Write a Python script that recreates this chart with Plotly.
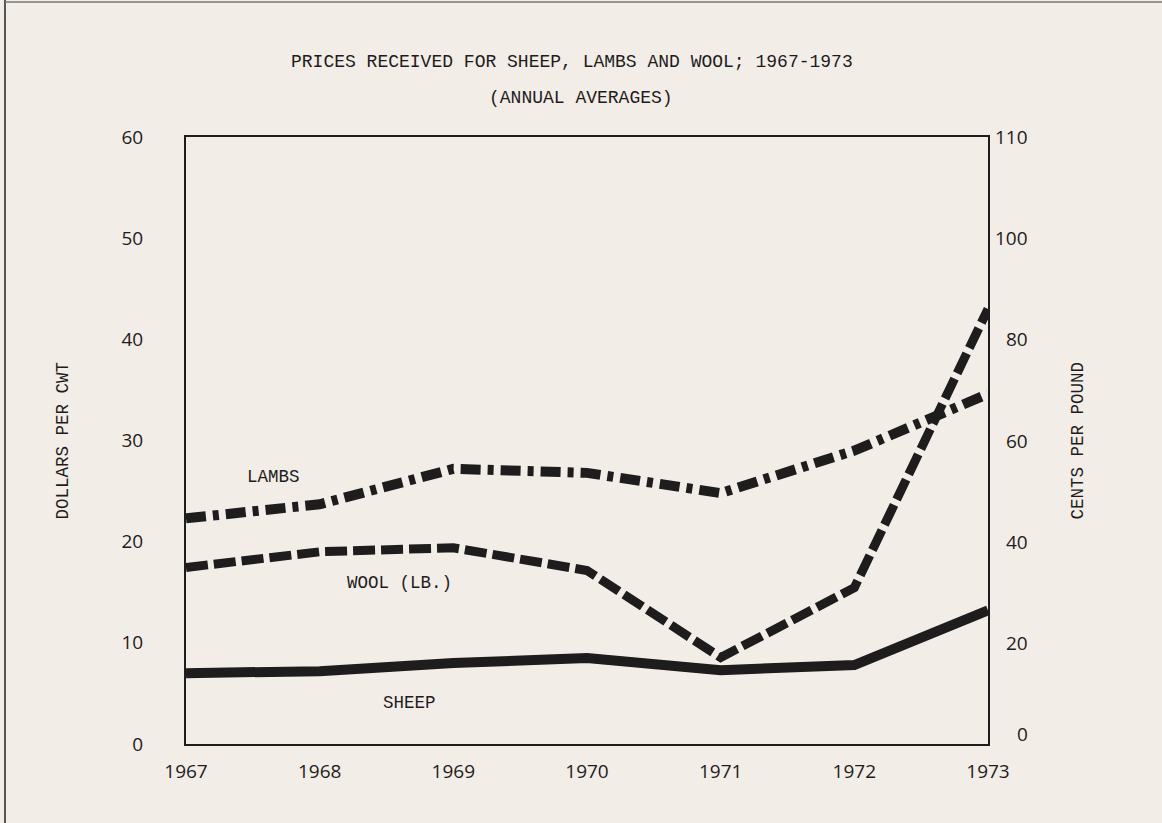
import plotly.graph_objects as go

years = [1967, 1968, 1969, 1970, 1971, 1972, 1973]
sheep = [7.0, 7.2, 8.0, 8.5, 7.3, 7.8, 13.2]      # dollars per cwt
lambs = [22.3, 23.7, 27.2, 26.8, 24.8, 29.0, 34.6]  # dollars per cwt
wool = [34.9, 38.0, 38.8, 34.3, 17.1, 30.9, 86.0]   # cents per pound

left_ticks = [0, 10, 20, 30, 40, 50, 60]
right_ticks = [0, 20, 40, 60, 80, 100, 120]
right_ticktext = ["0", "20", "40", "60", "80", "100", "110"]

INK = "#1e1c1c"
PAPER = "#f3ede7"
MONO = "Liberation Mono"
SANS = "Open Sans"

fig = go.Figure()
fig.add_trace(go.Scatter(x=years, y=sheep, mode="lines", name="SHEEP",
                         line=dict(color=INK, width=10)))
fig.add_trace(go.Scatter(x=years, y=lambs, mode="lines", name="LAMBS",
                         line=dict(color=INK, width=10, dash="20px,7px,6px,7px")))
fig.add_trace(go.Scatter(x=years, y=wool, mode="lines", name="WOOL (LB.)", yaxis="y2",
                         line=dict(color=INK, width=9, dash="22px,6px")))

def txt(text, x, y, xref="x", yref="y", size=18, angle=0, xanchor="center", family=MONO):
    return dict(text=text, x=x, y=y, xref=xref, yref=yref, textangle=angle, showarrow=False,
                xanchor=xanchor, yanchor="middle", font=dict(family=family, size=size, color=INK))

annotations = [
    txt("PRICES RECEIVED FOR SHEEP, LAMBS AND WOOL; 1967-1973", 0.481, 1.1236, "paper", "paper"),
    txt("(ANNUAL AVERAGES)", 0.4925, 1.0643, "paper", "paper"),
    txt("DOLLARS PER CWT", -0.1546, 0.5, "paper", "paper", size=17.5, angle=-90),
    txt("CENTS PER POUND", 1.1122, 0.5, "paper", "paper", size=17.5, angle=-90),
    txt("LAMBS", 1967.654, 26.4, size=17.5),
    txt("WOOL (LB.)", 1968.6, 15.9, size=17.5),
    txt("SHEEP", 1968.675, 4.05, size=17.5),
]
for v, t in zip(right_ticks, right_ticktext):
    annotations.append(txt(t, 1.0524, v + (2 if v == 0 else 0), "paper", "y2",
                           size=19, xanchor="right", family=SANS))

fig.update_layout(
    width=1162, height=823,
    margin=dict(l=186, r=174, t=137, b=79),
    paper_bgcolor=PAPER, plot_bgcolor=PAPER,
    showlegend=False,
    xaxis=dict(range=[1967, 1973], tickvals=years, showgrid=False, zeroline=False,
               showline=True, linecolor=INK, linewidth=2, mirror=True, ticks="",
               ticklabelstandoff=9, tickfont=dict(family=SANS, size=19, color=INK)),
    yaxis=dict(range=[0, 60], tickvals=left_ticks, showgrid=False, zeroline=False,
               showline=True, linecolor=INK, linewidth=2, ticks="", ticklabelstandoff=37,
               tickfont=dict(family=SANS, size=19, color=INK)),
    yaxis2=dict(range=[0, 120], tickvals=right_ticks, showticklabels=False, overlaying="y",
                side="right", showgrid=False, zeroline=False, showline=True,
                linecolor=INK, linewidth=2, ticks=""),
    annotations=annotations,
    shapes=[
        dict(type="line", xref="paper", yref="paper", x0=-0.2257, x1=-0.2257, y0=-0.14, y1=1.23,
             line=dict(color="#555", width=2)),
        dict(type="line", xref="paper", yref="paper", x0=-0.2257, x1=1.22, y0=1.2224, y1=1.2224,
             line=dict(color="#777", width=1.5)),
    ],
)

fig.write_html("out.html", config={"displayModeBar": False},
               post_script="document.body.style.margin='0';document.body.style.background='%s';" % PAPER)
